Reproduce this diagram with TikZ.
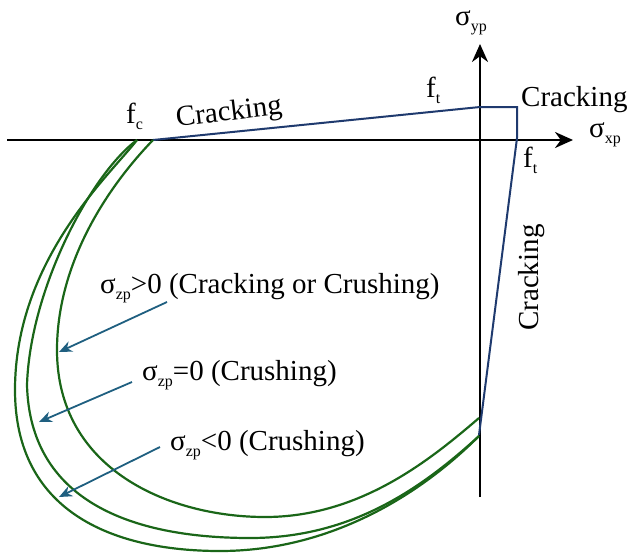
\documentclass[tikz,border=0pt]{standalone}
\usepackage{fontspec}
\setmainfont{Liberation Serif}
\usetikzlibrary{arrows.meta}
\definecolor{bluel}{HTML}{1F3A6E}
\definecolor{greenl}{HTML}{1A6618}
\definecolor{arrc}{HTML}{1F5F80}
\newcommand{\sg}[1]{σ\raisebox{-6pt}{\fontsize{16}{16}\selectfont #1}}
\newcommand{\sbx}[1]{\raisebox{-6pt}{\fontsize{16}{16}\selectfont #1}}
\begin{document}
\begin{tikzpicture}[x=1pt,y=-1pt,
  lbl/.style={font=\fontsize{29}{33}\selectfont, inner sep=0pt, anchor=base west},
  axis/.style={line width=2.5pt, draw=black, -{Stealth[length=18pt,width=16pt]}},
  envl/.style={line width=2pt, draw=bluel, line join=miter},
  surf/.style={line width=2.2pt, draw=greenl},
  pointer/.style={line width=1.8pt, draw=arrc, -{Stealth[length=13pt,width=11pt]}}]
\useasboundingbox (0,0) rectangle (628,554);
% axes
\coordinate (xs) at (7,140);
\coordinate (xe) at (573,140);
\coordinate (ys) at (480,497);
\coordinate (ye) at (480,44);
\draw[axis] (xs) -- (xe);
\draw[axis] (ys) -- (ye);
% blue envelope
\coordinate (fc) at (153,140);
\coordinate (ty) at (480,107);
\coordinate (tc) at (517,107);
\coordinate (tx) at (517,138);
\coordinate (by) at (479,435);
\draw[envl] (fc) -- (ty) -- (tc) -- (tx) -- (by);
% green surfaces
\coordinate (g0) at (137,140);
\coordinate (e1) at (479,418);
\coordinate (e2) at (479,436);
\draw[surf] (fc) .. controls (100,195) and (57,270) .. (57,350)
  .. controls (57,470) and (170,517) .. (265,517)
  .. controls (360,517) and (430,460) .. (e1);
\draw[surf] (g0) .. controls (90,175) and (30,290) .. (27,385)
  .. controls (30,500) and (130,538) .. (250,538)
  .. controls (350,538) and (420,490) .. (e2);
\draw[surf] (g0) .. controls (110,175) and (15,260) .. (15,390)
  .. controls (15,510) and (110,551) .. (220,551)
  .. controls (330,551) and (420,495) .. (e2);
% labels
\node[lbl] (lfc) at (126,123) {f\sbx{c}};
\node[lbl, rotate=7] (lcr1) at (177,127) {Cracking};
\node[lbl] (lft1) at (426,97) {f\sbx{t}};
\node[lbl] (lcr2) at (521,106) {Cracking};
\node[lbl] (lsy) at (455,25) {\sg{yp}};
\node[lbl] (lsx) at (589,137) {\sg{xp}};
\node[lbl] (lft2) at (523,167) {f\sbx{t}};
\node[lbl, rotate=90] (lcr3) at (538,331) {Cracking};
\node[lbl] (l1) at (100,293) {\sg{zp}>0 (Cracking or Crushing)};
\node[lbl] (l2) at (142,380) {\sg{zp}=0 (Crushing)};
\node[lbl] (l3) at (170,450) {\sg{zp}<0 (Crushing)};
% pointers
\coordinate (a1s) at (167,302);
\coordinate (a1e) at (59,352);
\coordinate (a2s) at (132,382);
\coordinate (a2e) at (39,422);
\coordinate (a3s) at (160,447);
\coordinate (a3e) at (59,497);
\draw[pointer] (a1s) -- (a1e);
\draw[pointer] (a2s) -- (a2e);
\draw[pointer] (a3s) -- (a3e);
\end{tikzpicture}
\end{document}
